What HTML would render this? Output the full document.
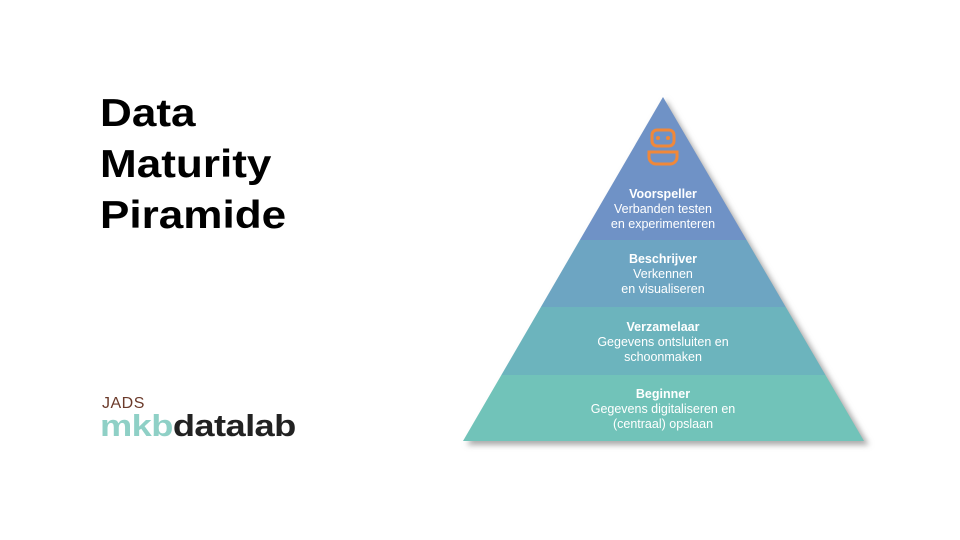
<!DOCTYPE html>
<html><head><meta charset="utf-8"><style>
body{margin:0;width:960px;height:540px;background:#fff;overflow:hidden;position:relative;font-family:"Liberation Sans",sans-serif}
.t{position:absolute;left:100px;top:88px;font-size:39px;font-weight:bold;line-height:51px;color:#000;transform:scaleX(1.13);transform-origin:0 0}
.j{position:absolute;left:102px;top:395px;font-size:16px;color:#6b3a2a;letter-spacing:0.5px}
.m{position:absolute;left:100px;top:408px;font-size:31px;font-weight:bold;letter-spacing:-0.5px;transform:scaleX(1.17);transform-origin:0 0}
</style></head><body>
<div class="t">Data<br>Maturity<br>Piramide</div>
<div class="j">JADS</div>
<div class="m"><span style="color:#8fd0c6">mkb</span><span style="color:#222">datalab</span></div>
<svg width="960" height="540" style="position:absolute;left:0;top:0" font-family="Liberation Sans, sans-serif">
<defs>
<filter id="s" x="-10%" y="-10%" width="120%" height="120%"><feGaussianBlur stdDeviation="3"/></filter>
<clipPath id="c"><polygon points="663,97 864,441 463,441"/></clipPath>
</defs>
<polygon points="666,100 869,445 467,445" fill="#aaa" filter="url(#s)"/>
<g clip-path="url(#c)">
<rect x="450" y="90" width="430" height="150" fill="#6f92c6"/>
<rect x="450" y="240" width="430" height="67" fill="#6da5c2"/>
<rect x="450" y="307" width="430" height="68" fill="#6cb4bd"/>
<rect x="450" y="375" width="430" height="70" fill="#71c3b9"/>
</g>
<g fill="none" stroke="#f0883a" stroke-width="3">
<rect x="652" y="130" width="22" height="16" rx="5"/>
<path d="M649 152 h28 v5 a7 7 0 0 1 -7 7 h-14 a7 7 0 0 1 -7 -7 z"/>
</g>
<circle cx="658" cy="138" r="2" fill="#f0883a"/><circle cx="668" cy="138" r="2" fill="#f0883a"/>
<g fill="#fff" text-anchor="middle" font-size="12.5">
<text x="663" y="198" font-weight="bold">Voorspeller</text>
<text x="663" y="213">Verbanden testen</text>
<text x="663" y="228">en experimenteren</text>
<text x="663" y="263" font-weight="bold">Beschrijver</text>
<text x="663" y="278">Verkennen</text>
<text x="663" y="293">en visualiseren</text>
<text x="663" y="331" font-weight="bold">Verzamelaar</text>
<text x="663" y="346">Gegevens ontsluiten en</text>
<text x="663" y="361">schoonmaken</text>
<text x="663" y="398" font-weight="bold">Beginner</text>
<text x="663" y="413">Gegevens digitaliseren en</text>
<text x="663" y="428">(centraal) opslaan</text>
</g>
</svg>
</body></html>
